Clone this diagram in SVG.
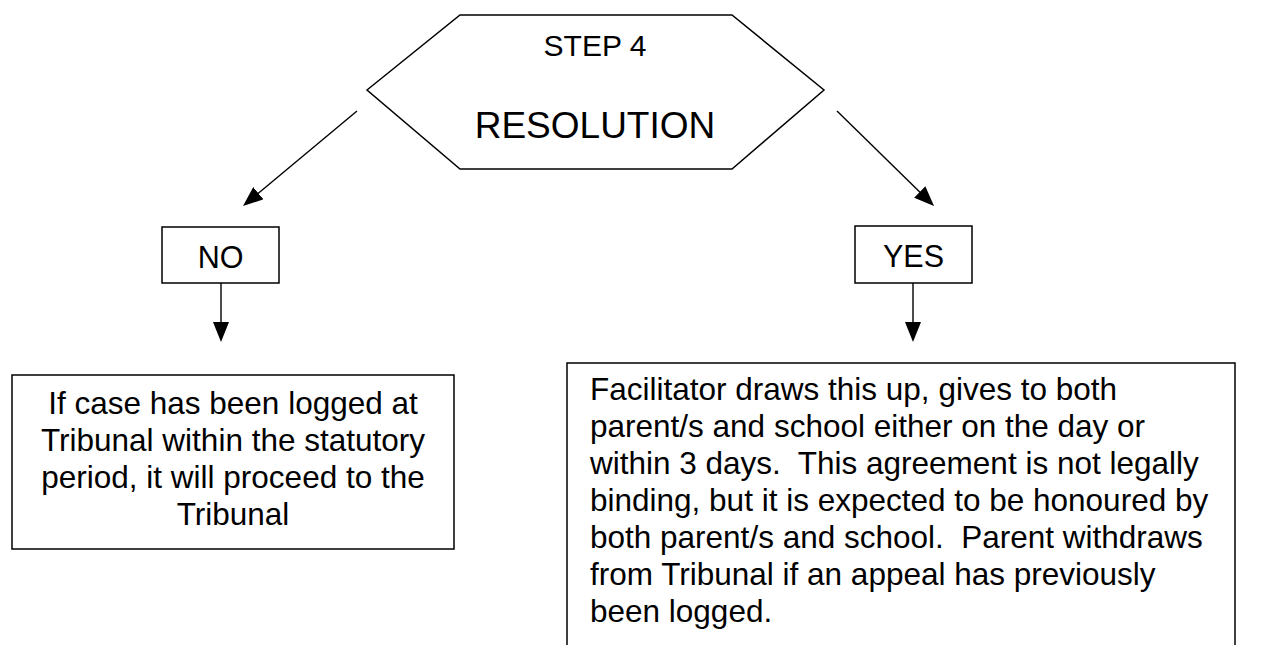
<svg xmlns="http://www.w3.org/2000/svg" width="1262" height="645" viewBox="0 0 1262 645">
<style>
.shape{fill:#fff;stroke:#000;stroke-width:1.5}
.conn{fill:none;stroke:#000;stroke-width:1.4}
text{font-family:"Liberation Sans",Arial,sans-serif;fill:#000;white-space:pre}
.c{text-anchor:middle}
.b{font-size:31.5px}
</style>
<defs>
<marker id="ah" viewBox="0 0 20 16" refX="10" refY="8" markerWidth="20" markerHeight="16" markerUnits="userSpaceOnUse" orient="auto">
<path d="M0,0 L20,8 L0,16 z" fill="#000"/>
</marker>
</defs>
<rect width="1262" height="645" fill="#fff"/>
<g id="step4">
<polygon class="shape" points="367,90 460,15 732,15 824,90 732,169 460,169"/>
<text class="c" x="595" y="56" font-size="30">STEP 4</text>
<text class="c" x="595" y="138" font-size="37">RESOLUTION</text>
</g>
<g id="no">
<rect class="shape" x="162" y="227" width="117" height="56"/>
<text class="c" x="220.5" y="268" font-size="30.5">NO</text>
</g>
<g id="yes">
<rect class="shape" x="855" y="226" width="117" height="57"/>
<text class="c" x="913.5" y="267" font-size="30.5">YES</text>
</g>
<g id="no-result">
<rect class="shape" x="12" y="375" width="442" height="174"/>
<text class="c b" x="233" y="414">If case has been logged at</text>
<text class="c b" x="233" y="451">Tribunal within the statutory</text>
<text class="c b" x="233" y="488">period, it will proceed to the</text>
<text class="c b" x="233" y="525">Tribunal</text>
</g>
<g id="yes-result">
<rect class="shape" x="567" y="363" width="668" height="300"/>
<text class="b" x="590" y="400">Facilitator draws this up, gives to both</text>
<text class="b" x="590" y="437">parent/s and school either on the day or</text>
<text class="b" x="590" y="474">within 3 days.  This agreement is not legally</text>
<text class="b" x="590" y="511">binding, but it is expected to be honoured by</text>
<text class="b" x="590" y="548">both parent/s and school.  Parent withdraws</text>
<text class="b" x="590" y="585">from Tribunal if an appeal has previously</text>
<text class="b" x="590" y="622">been logged.</text>
</g>
<g id="connectors">
<line class="conn" x1="357" y1="111" x2="250.7" y2="199.6" marker-end="url(#ah)"/>
<line class="conn" x1="837" y1="111" x2="926.9" y2="199" marker-end="url(#ah)"/>
<line class="conn" x1="221" y1="283" x2="221" y2="332" marker-end="url(#ah)"/>
<line class="conn" x1="913" y1="283" x2="913" y2="332" marker-end="url(#ah)"/>
</g>
</svg>
